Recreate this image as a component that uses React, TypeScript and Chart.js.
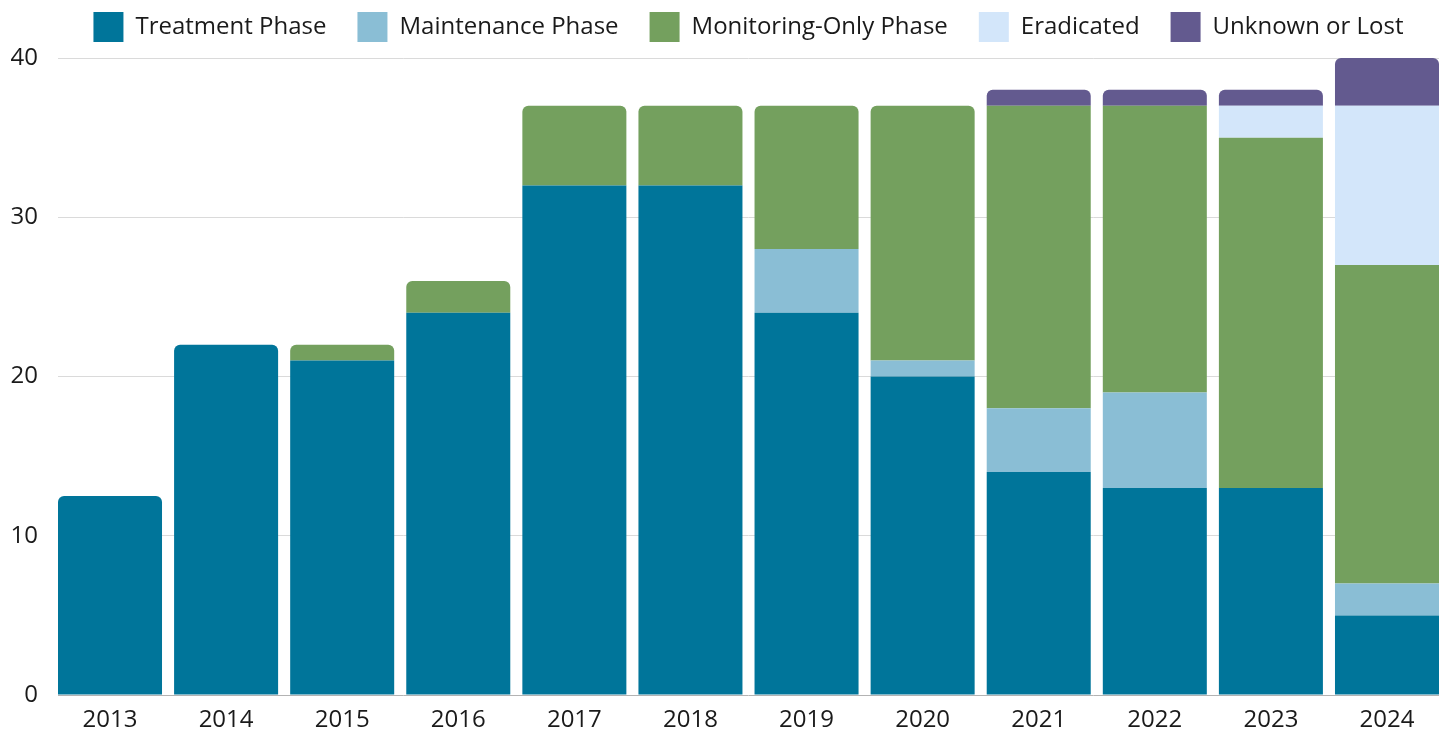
import React, { useEffect, useRef } from "react";
import { Chart, registerables } from "chart.js";

Chart.register(...registerables);

const years = [2013, 2014, 2015, 2016, 2017, 2018, 2019, 2020, 2021, 2022, 2023, 2024];
const treatment = [12.5, 22, 21, 24, 32, 32, 24, 20, 14, 13, 13, 5];
const maintenance = [0, 0, 0, 0, 0, 0, 4, 1, 4, 6, 0, 2];
const monitoring = [0, 0, 1, 2, 5, 5, 9, 16, 19, 18, 22, 20];
const eradicated = [0, 0, 0, 0, 0, 0, 0, 0, 0, 0, 2, 10];
const unknown = [0, 0, 0, 0, 0, 0, 0, 0, 1, 1, 1, 3];
const yTicks = [0, 10, 20, 30, 40];

const FONT = "'Open Sans', sans-serif";
const TEXT = "#1a1a1a";

export default function App() {
  const ref = useRef<HTMLCanvasElement | null>(null);
  useEffect(() => {
    if (!ref.current) return;
    const legendFit = {
      id: "legendFit",
      beforeInit(chart: any) {
        const orig = chart.legend.fit;
        chart.legend.fit = function () {
          orig.call(this);
          this.height += 6;
        };
      },
    };
    const mk = (label: string, data: number[], color: string) => ({
      label,
      data,
      backgroundColor: color,
      borderWidth: 0,
      borderRadius: 6,
      borderSkipped: "start" as const,
      categoryPercentage: 1,
      barPercentage: 0.896,
    });
    const chart = new Chart(ref.current, {
      type: "bar",
      data: {
        labels: years,
        datasets: [
          mk("Treatment Phase", treatment, "#00759a"),
          mk("Maintenance Phase", maintenance, "#8abed5"),
          mk("Monitoring-Only Phase", monitoring, "#74a05e"),
          mk("Eradicated", eradicated, "#d3e6fa"),
          mk("Unknown or Lost", unknown, "#635a8f"),
        ],
      },
      options: {
        responsive: false,
        animation: false,
        layout: { padding: { left: 8, right: 5, top: -19, bottom: 0 } },
        plugins: {
          tooltip: { enabled: false },
          legend: {
            position: "top",
            fullSize: false,
            labels: {
              boxWidth: 30,
              boxHeight: 30,
              padding: 31,
              color: TEXT,
              font: { family: FONT, size: 24 },
            },
          },
        },
        scales: {
          x: {
            type: "linear",
            stacked: true,
            offset: false,
            min: years[0] - 0.448,
            max: years[years.length - 1] + 0.448,
            grid: { display: false },
            border: { display: false },
            afterBuildTicks: (scale: any) => {
              scale.ticks = years.map((v) => ({ value: v }));
            },
            afterFit: (scale: any) => {
              scale.height = 35;
            },
            ticks: {
              autoSkip: false,
              maxRotation: 0,
              padding: 3,
              color: TEXT,
              font: { family: FONT, size: 24 },
              callback: (v: any) => String(v),
            },
          },
          y: {
            stacked: true,
            min: 0,
            max: 40,
            border: { display: false },
            grid: {
              drawTicks: false,
              color: (ctx: any) => (ctx.tick && ctx.tick.value === 0 ? "#b3b3b3" : "#dadada"),
              lineWidth: 1,
            },
            afterBuildTicks: (scale: any) => {
              scale.ticks = yTicks.map((v) => ({ value: v }));
            },
            afterFit: (scale: any) => {
              scale.width = 50;
            },
            ticks: {
              padding: 20,
              color: TEXT,
              font: { family: FONT, size: 24 },
              callback: (v: any) => String(v),
            },
          },
        },
      },
      plugins: [legendFit],
    } as any);
    return () => chart.destroy();
  }, []);
  return (
    <div style={{ position: "absolute", left: 0, top: 0, width: 1444, height: 730 }}>
      <canvas ref={ref} width={1444} height={730} style={{ display: "block" }} />
    </div>
  );
}
